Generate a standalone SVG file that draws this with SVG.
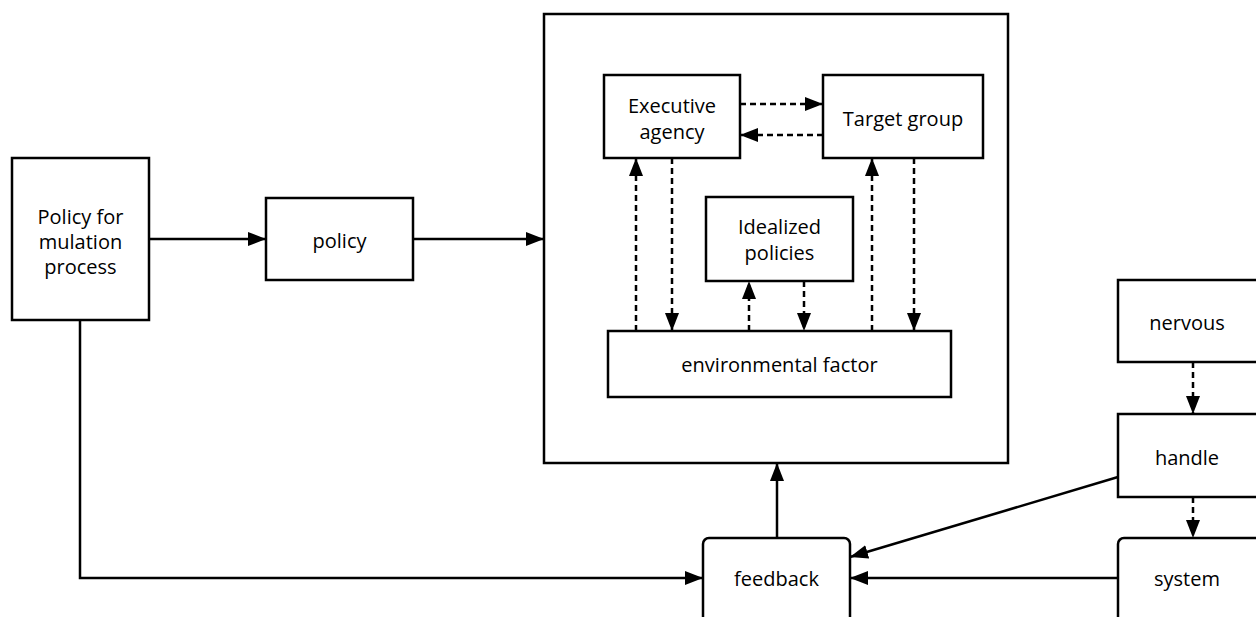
<svg xmlns="http://www.w3.org/2000/svg" width="1256" height="617" viewBox="0 0 1256 617">
<style>
.box{fill:#fff;stroke:#000;stroke-width:2.5}
.t{font-family:"Open Sans","Noto Sans","DejaVu Sans",sans-serif;font-size:20px;fill:#000;text-anchor:middle;dominant-baseline:central}
.s{fill:none;stroke:#000;stroke-width:2.5}
.d{fill:none;stroke:#000;stroke-width:2.5;stroke-dasharray:6 4}
</style>
<defs>
<marker id="a" viewBox="0 0 18 14" refX="18" refY="7" markerWidth="18" markerHeight="14" markerUnits="userSpaceOnUse" orient="auto">
<path d="M0,0 L18,7 L0,14 Z" fill="#000"/>
</marker>
</defs>
<rect width="1256" height="617" fill="#fff"/>
<g id="outer"><rect class="box" x="544" y="14" width="464" height="449"/></g>
<g id="formulation"><rect class="box" x="12" y="158" width="137" height="162"/>
<text class="t" x="80.5" y="216">Policy for</text><text class="t" x="80.5" y="241">mulation</text><text class="t" x="80.5" y="266">process</text></g>
<g id="policy"><rect class="box" x="266" y="198" width="147" height="82"/><text class="t" x="339.5" y="240">policy</text></g>
<g id="executive"><rect class="box" x="604" y="75" width="136" height="83"/><text class="t" x="672" y="105">Executive</text><text class="t" x="672" y="131">agency</text></g>
<g id="target"><rect class="box" x="823" y="75" width="160" height="83"/><text class="t" x="903" y="118">Target group</text></g>
<g id="idealized"><rect class="box" x="706" y="197" width="147" height="84"/><text class="t" x="779.5" y="226">Idealized</text><text class="t" x="779.5" y="252">policies</text></g>
<g id="environment"><rect class="box" x="608" y="331" width="343" height="66"/><text class="t" x="779.5" y="364">environmental factor</text></g>
<g id="nervous"><rect class="box" x="1118" y="280" width="150" height="82"/><text class="t" x="1187" y="322">nervous</text></g>
<g id="handle"><rect class="box" x="1118" y="414" width="150" height="83"/><text class="t" x="1187" y="457">handle</text></g>
<g id="system"><rect class="box" x="1118" y="538" width="150" height="100" rx="6"/><text class="t" x="1187" y="578">system</text></g>
<g id="feedback"><rect class="box" x="703" y="538" width="147" height="100" rx="6"/><text class="t" x="776.5" y="578">feedback</text></g>
<g id="connectors">
<path class="s" d="M149,239 H266" marker-end="url(#a)"/>
<path class="s" d="M413,239 H544" marker-end="url(#a)"/>
<path class="s" d="M80,320 V578 H703" marker-end="url(#a)"/>
<path class="s" d="M777,538 V463" marker-end="url(#a)"/>
<path class="s" d="M1118,578 H850" marker-end="url(#a)"/>
<path class="s" d="M1118,477 L850,557" marker-end="url(#a)"/>
<path class="d" d="M740,104 H823" marker-end="url(#a)"/>
<path class="d" d="M823,135 H740" marker-end="url(#a)"/>
<path class="d" d="M636,331 V158" marker-end="url(#a)"/>
<path class="d" d="M672,158 V331" marker-end="url(#a)"/>
<path class="d" d="M749,331 V281" marker-end="url(#a)"/>
<path class="d" d="M804,281 V331" marker-end="url(#a)"/>
<path class="d" d="M872,331 V158" marker-end="url(#a)"/>
<path class="d" d="M914,158 V331" marker-end="url(#a)"/>
<path class="d" d="M1193,362 V414" marker-end="url(#a)"/>
<path class="d" d="M1193,497 V538" marker-end="url(#a)"/>
</g>
</svg>
